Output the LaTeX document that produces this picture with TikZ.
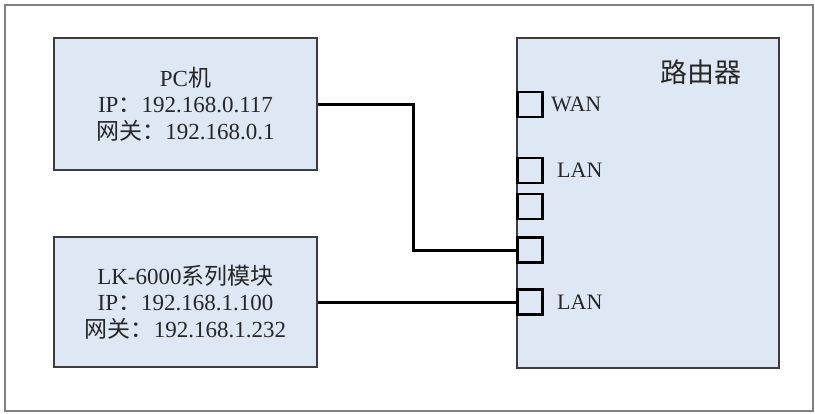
\documentclass[tikz,border=0pt]{standalone}
\usepackage{fontspec}
\setmainfont{Liberation Serif}
\newfontfamily\cjk{Noto Sans CJK SC}
\definecolor{boxfill}{RGB}{222,232,245}
\definecolor{boxline}{RGB}{60,60,60}
\definecolor{framecol}{RGB}{130,130,130}
\tikzset{
  devbox/.style={draw=boxline,line width=1.4pt,fill=boxfill,minimum width=263pt,inner sep=0pt,align=center,font=\fontsize{23}{26.5}\selectfont,text=black!85},
  portbox/.style={draw=black,line width=2.2pt,fill=boxfill,minimum width=25pt,minimum height=25pt,inner sep=0pt},
  portlabel/.style={anchor=west,inner sep=0pt,font=\fontsize{22}{24}\selectfont,text=black!85},
  cable/.style={line width=3pt,black}
}
\begin{document}
\begin{tikzpicture}[x=1pt,y=-1pt]
\useasboundingbox (0,0) rectangle (815,413);
\fill[white] (0,0) rectangle (815,413);
\draw[framecol,line width=1.5pt] (5,5) rectangle (813,411);
\node[devbox,minimum height=132pt] (pc) at (185.5,104) {PC{\cjk 机}\\IP{\cjk ：}192.168.0.117\\{\cjk 网关：}192.168.0.1};
\node[devbox,minimum height=130pt] (lk) at (185.5,302) {LK-6000{\cjk 系列模块}\\IP{\cjk ：}192.168.1.100\\{\cjk 网关：}192.168.1.232};
\node[draw=boxline,line width=1.4pt,fill=boxfill,minimum width=262pt,minimum height=330pt,inner sep=0pt] (router) at (648,203) {};
\node[inner sep=0pt,font=\cjk\fontsize{27}{30}\selectfont,text=black!85] (rlabel) at (701,72) {路由器};
\node[portbox] (p1) at (530,104.5) {};
\node[portbox] (p2) at (530,170.5) {};
\node[portbox] (p3) at (530,206.5) {};
\node[portbox] (p4) at (530,250) {};
\node[portbox] (p5) at (530,302) {};
\node[portlabel] (wan) at (551,104.5) {WAN};
\node[portlabel] (lan1) at (557,170.5) {LAN};
\node[portlabel] (lan2) at (557,302) {LAN};
\coordinate (bend) at (413,104);
\draw[cable] (pc.east) -- (bend) |- (p4.west);
\draw[cable] (lk.east) -- (p5.west);
\end{tikzpicture}
\end{document}
